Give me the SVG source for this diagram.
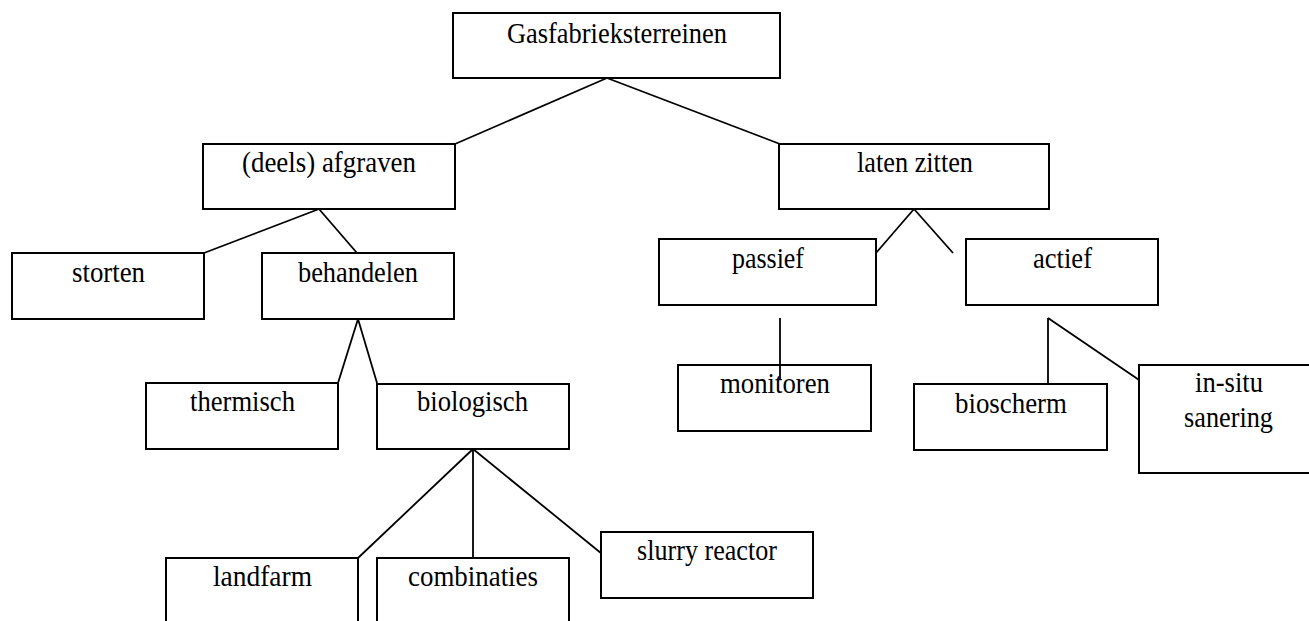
<svg xmlns="http://www.w3.org/2000/svg" width="1309" height="621" viewBox="0 0 1309 621">
<style>
.box{fill:#fff;stroke:#000;stroke-width:2}
.lbl{font-family:'Liberation Serif','Times New Roman',serif;font-size:29px;fill:#000;text-anchor:middle}
.con line{stroke:#000;stroke-width:1.8;fill:none}
</style>
<rect width="1309" height="621" fill="#fff"/>
<g id="connectors" class="con">
<line x1="607" y1="78" x2="455" y2="144"/>
<line x1="607" y1="78" x2="780" y2="144"/>
<line x1="319" y1="209" x2="204" y2="253"/>
<line x1="319" y1="209" x2="357" y2="253"/>
<line x1="914" y1="209" x2="876" y2="253"/>
<line x1="914" y1="209" x2="953" y2="253"/>
<line x1="358" y1="319" x2="338" y2="383"/>
<line x1="358" y1="319" x2="377" y2="383"/>
<line x1="473" y1="449" x2="358" y2="558"/>
<line x1="473" y1="449" x2="473" y2="558"/>
<line x1="473" y1="449" x2="607" y2="558"/>
<line x1="1048" y1="318" x2="1145" y2="384"/>
</g>
<g font-family="'Liberation Serif','Times New Roman',serif">
<g id="n-gasfabrieksterreinen"><rect class="box" x="453" y="13" width="327" height="65"/><text class="lbl" x="617" y="43" textLength="220" lengthAdjust="spacingAndGlyphs">Gasfabrieksterreinen</text></g>
<g id="n-afgraven"><rect class="box" x="203" y="144" width="252" height="65"/><text class="lbl" x="329" y="172" textLength="174" lengthAdjust="spacingAndGlyphs">(deels) afgraven</text></g>
<g id="n-laten-zitten"><rect class="box" x="779" y="144" width="270" height="65"/><text class="lbl" x="915" y="172" textLength="116" lengthAdjust="spacingAndGlyphs">laten zitten</text></g>
<g id="n-storten"><rect class="box" x="12" y="253" width="192" height="66"/><text class="lbl" x="108.5" y="282" textLength="73" lengthAdjust="spacingAndGlyphs">storten</text></g>
<g id="n-behandelen"><rect class="box" x="262" y="253" width="192" height="66"/><text class="lbl" x="358" y="282" textLength="120" lengthAdjust="spacingAndGlyphs">behandelen</text></g>
<g id="n-passief"><rect class="box" x="659" y="239" width="217" height="66"/><text class="lbl" x="768" y="268" textLength="72" lengthAdjust="spacingAndGlyphs">passief</text></g>
<g id="n-actief"><rect class="box" x="966" y="239" width="192" height="66"/><text class="lbl" x="1062.5" y="268" textLength="59" lengthAdjust="spacingAndGlyphs">actief</text></g>
<g id="n-thermisch"><rect class="box" x="146" y="383" width="192" height="66"/><text class="lbl" x="242.5" y="411" textLength="105" lengthAdjust="spacingAndGlyphs">thermisch</text></g>
<g id="n-biologisch"><rect class="box" x="377" y="384" width="192" height="65"/><text class="lbl" x="472.5" y="411" textLength="111" lengthAdjust="spacingAndGlyphs">biologisch</text></g>
<g id="n-monitoren"><rect class="box" x="678" y="365" width="193" height="66"/><text class="lbl" x="775" y="393" textLength="110" lengthAdjust="spacingAndGlyphs">monitoren</text></g>
<g id="n-bioscherm"><rect class="box" x="914" y="384" width="193" height="66"/><text class="lbl" x="1011" y="413" textLength="112" lengthAdjust="spacingAndGlyphs">bioscherm</text></g>
<g id="n-in-situ"><rect class="box" x="1139" y="365" width="181" height="108"/><text class="lbl" x="1229" y="392" textLength="68" lengthAdjust="spacingAndGlyphs">in-situ</text><text class="lbl" x="1228.5" y="427" textLength="89" lengthAdjust="spacingAndGlyphs">sanering</text></g>
<g id="n-landfarm"><rect class="box" x="166" y="558" width="192" height="80"/><text class="lbl" x="262.5" y="586" textLength="99" lengthAdjust="spacingAndGlyphs">landfarm</text></g>
<g id="n-combinaties"><rect class="box" x="377" y="558" width="192" height="80"/><text class="lbl" x="473" y="586" textLength="130" lengthAdjust="spacingAndGlyphs">combinaties</text></g>
<g id="n-slurry"><rect class="box" x="601" y="532" width="212" height="66"/><text class="lbl" x="707" y="560" textLength="140" lengthAdjust="spacingAndGlyphs">slurry reactor</text></g>
</g>
<g id="connectors-over" class="con">
<line x1="780" y1="318" x2="780" y2="380"/>
<line x1="1048" y1="318" x2="1048" y2="384"/>
</g>
</svg>
